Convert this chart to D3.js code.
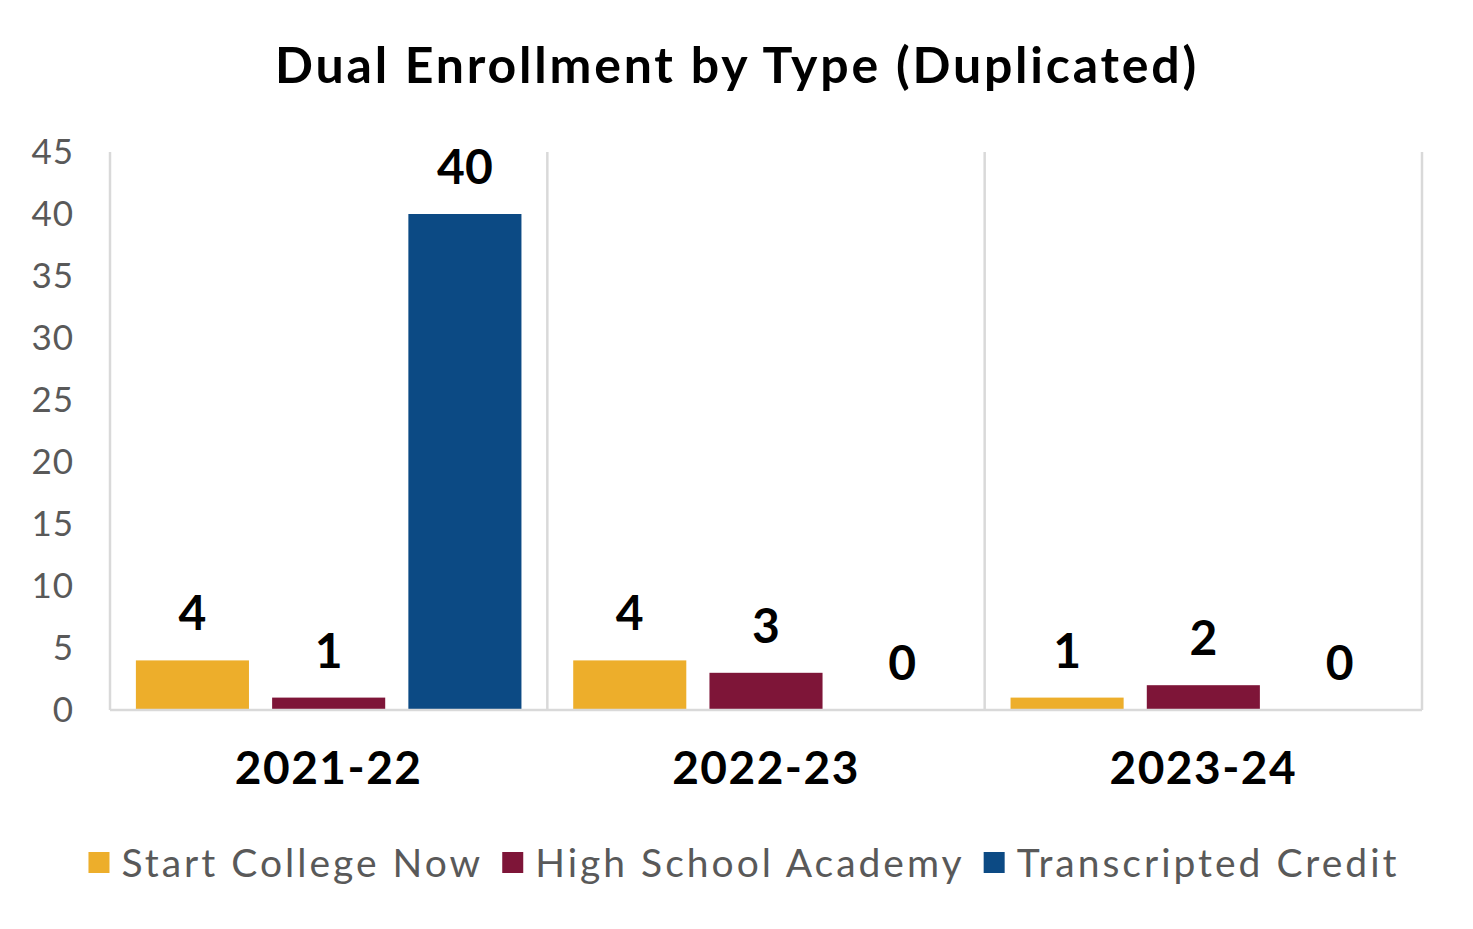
<!DOCTYPE html>
<html>
<head>
<meta charset="utf-8">
<script src="https://cdn.jsdelivr.net/npm/d3@7"></script>
<style>
  body { margin: 0; background: #fff; }
  text { font-family: Lato, "Noto Sans", sans-serif; }
</style>
</head>
<body>
<script>
var width = 1473;
var height = 929;

// chart data
var years = ["2021-22", "2022-23", "2023-24"];
var seriesNames = ["Start College Now", "High School Academy", "Transcripted Credit"];
var startCollegeNow = [4, 4, 1];
var highSchoolAcademy = [1, 3, 2];
var transcriptedCredit = [40, 0, 0];
var yTicks = [0, 5, 10, 15, 20, 25, 30, 35, 40, 45];
var colors = ["#EDAE2B", "#7E1538", "#0C4A84"];

var allSeries = [startCollegeNow, highSchoolAcademy, transcriptedCredit];

var plotLeft = 110, plotRight = 1422, plotTop = 152, plotBottom = 710;

var svg = d3.select("body").append("svg")
  .attr("width", width)
  .attr("height", height);

// title
svg.append("text")
  .attr("x", 737)
  .attr("y", 83)
  .attr("text-anchor", "middle")
  .attr("font-size", 50)
  .attr("font-weight", "bold")
  .attr("letter-spacing", 2.8)
  .attr("fill", "#000")
  .text("Dual Enrollment by Type (Duplicated)");

var x0 = d3.scaleBand().domain(years).range([plotLeft, plotRight]).paddingInner(0).paddingOuter(0);
var x1 = d3.scaleBand().domain(d3.range(seriesNames.length)).range([0, x0.bandwidth()])
  .paddingInner(0.17).paddingOuter(0.19);
var y = d3.scaleLinear().domain([0, 45]).range([plotBottom, plotTop]);

// y axis labels
svg.append("g").selectAll("text")
  .data(yTicks)
  .enter().append("text")
  .attr("x", 74)
  .attr("y", function(d) { return y(d) + 12; })
  .attr("text-anchor", "end")
  .attr("font-size", 35)
  .attr("letter-spacing", 1)
  .attr("fill", "#595959")
  .text(function(d) { return d; });

// vertical separators between categories
var seps = [plotLeft].concat(years.map(function(d) { return x0(d) + x0.bandwidth(); }));
svg.append("g").selectAll("line")
  .data(seps)
  .enter().append("line")
  .attr("x1", function(d) { return d; })
  .attr("x2", function(d) { return d; })
  .attr("y1", plotTop)
  .attr("y2", plotBottom)
  .attr("stroke", "#d9d9d9")
  .attr("stroke-width", 2.5);

// bars
var groups = svg.append("g").selectAll("g")
  .data(years)
  .enter().append("g")
  .attr("transform", function(d) { return "translate(" + x0(d) + ",0)"; });

groups.selectAll("rect")
  .data(function(d, i) { return allSeries.map(function(s, k) { return { k: k, v: s[i] }; }); })
  .enter().append("rect")
  .attr("x", function(d) { return x1(d.k); })
  .attr("width", x1.bandwidth())
  .attr("y", function(d) { return y(d.v); })
  .attr("height", function(d) { return plotBottom - y(d.v); })
  .attr("fill", function(d) { return colors[d.k]; });

groups.selectAll("text")
  .data(function(d, i) { return allSeries.map(function(s, k) { return { k: k, v: s[i] }; }); })
  .enter().append("text")
  .attr("x", function(d) { return x1(d.k) + x1.bandwidth() / 2; })
  .attr("y", function(d) { return y(d.v) - 30; })
  .attr("text-anchor", "middle")
  .attr("font-size", 48)
  .attr("font-weight", "bold")
  .attr("fill", "#000")
  .text(function(d) { return d.v; });

// baseline
svg.append("line")
  .attr("x1", plotLeft)
  .attr("x2", plotRight)
  .attr("y1", plotBottom)
  .attr("y2", plotBottom)
  .attr("stroke", "#d9d9d9")
  .attr("stroke-width", 2.5);

// category labels
svg.append("g").selectAll("text")
  .data(years)
  .enter().append("text")
  .attr("x", function(d) { return x0(d) + x0.bandwidth() / 2; })
  .attr("y", 784)
  .attr("text-anchor", "middle")
  .attr("font-size", 46)
  .attr("font-weight", "bold")
  .attr("letter-spacing", 1.5)
  .attr("fill", "#000")
  .text(function(d) { return d; });

// legend
var legend = svg.append("g");
var items = legend.selectAll("g")
  .data(seriesNames)
  .enter().append("g");
items.append("rect")
  .attr("width", 21)
  .attr("height", 21)
  .attr("y", 852)
  .attr("fill", function(d, i) { return colors[i]; });
items.append("text")
  .attr("x", 33)
  .attr("y", 877)
  .attr("font-size", 39)
  .attr("letter-spacing", 3)
  .attr("fill", "#595959")
  .text(function(d) { return d; });

var widths = [];
items.each(function() {
  widths.push(d3.select(this).select("text").node().getComputedTextLength() + 33);
});
var gap = 19;
var total = d3.sum(widths) + gap * (widths.length - 1);
var pos = 744 - total / 2;
items.attr("transform", function(d, i) {
  var t = "translate(" + pos + ",0)";
  pos += widths[i] + gap;
  return t;
});
</script>
</body>
</html>
